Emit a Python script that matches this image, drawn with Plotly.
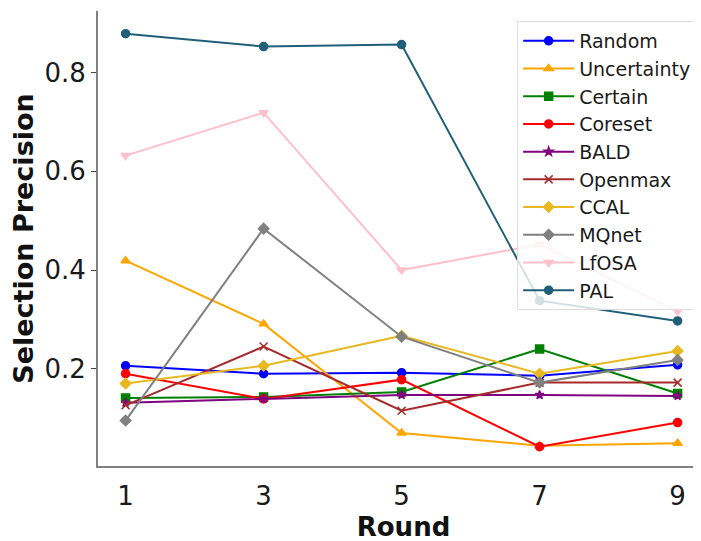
import plotly.graph_objects as go

rounds = [1, 3, 5, 7, 9]
methods = ["Random", "Uncertainty", "Certain", "Coreset", "BALD", "Openmax", "CCAL", "MQnet", "LfOSA", "PAL"]
random_v = [0.206, 0.190, 0.192, 0.186, 0.208]
uncertainty_v = [0.419, 0.291, 0.070, 0.044, 0.049]
certain_v = [0.141, 0.143, 0.153, 0.240, 0.150]
coreset_v = [0.190, 0.139, 0.178, 0.042, 0.091]
bald_v = [0.131, 0.139, 0.147, 0.147, 0.145]
openmax_v = [0.126, 0.245, 0.115, 0.172, 0.172]
ccal_v = [0.170, 0.206, 0.267, 0.190, 0.236]
mqnet_v = [0.095, 0.484, 0.265, 0.172, 0.218]
lfosa_v = [0.632, 0.719, 0.400, 0.452, 0.317]
pal_v = [0.879, 0.853, 0.857, 0.338, 0.297]
y_ticks = [0.2, 0.4, 0.6, 0.8]

series = [random_v, uncertainty_v, certain_v, coreset_v, bald_v, openmax_v, ccal_v, mqnet_v, lfosa_v, pal_v]
colors = ["#0000FF", "#FFA500", "#008000", "#FF0000", "#800080", "#A52A2A", "#E8B820", "#808080", "#FFC0CB", "#1F5F7A"]
symbols = ["circle", "triangle-up", "square", "circle", "star", "x-thin", "diamond", "diamond", "triangle-down", "circle"]
sizes = [8, 8, 8, 8, 6.5, 8, 8, 8, 8, 8]

fig = go.Figure()
for name, vals, c, s, sz in zip(methods, series, colors, symbols, sizes):
    fig.add_trace(go.Scatter(
        x=rounds, y=vals, name=name, mode="lines+markers",
        line=dict(color=c, width=2),
        marker=dict(symbol=s, size=sz, color=c, line=dict(color=c, width=1.5)),
    ))

fig.update_layout(
    width=701, height=541,
    margin=dict(l=90, r=0, t=3, b=83),
    paper_bgcolor="white", plot_bgcolor="white",
    font=dict(family="DejaVu Sans", color="#1a1a1a"),
    showlegend=True,
    legend=dict(
        x=0.686, y=0.978, xanchor="left", yanchor="top",
        bgcolor="rgba(255,255,255,0.8)", bordercolor="#DDDDDD", borderwidth=1,
        font=dict(size=19, family="DejaVu Sans", color="#1a1a1a"),
        tracegroupgap=0, itemwidth=51,
    ),
    xaxis=dict(
        range=[0.6, 9.455], tickmode="array", tickvals=rounds, ticktext=[str(r) for r in rounds],
        showgrid=False, zeroline=False, showline=True, linecolor="#808080", linewidth=2,
        ticks="outside", ticklen=6, tickcolor="rgba(0,0,0,0)", automargin=False,
        tickfont=dict(size=26, family="DejaVu Sans", color="#1a1a1a"),
        title=dict(text="<b>Round</b>", font=dict(size=26, family="DejaVu Sans", color="#111111"), standoff=8),
    ),
    yaxis=dict(
        range=[0.003, 0.925], tickmode="array", tickvals=y_ticks,
        ticktext=[f"{t:.1f}" for t in y_ticks],
        showgrid=False, zeroline=False, showline=True, linecolor="#808080", linewidth=2,
        ticks="outside", ticklen=5, tickcolor="#444444", automargin=False,
        tickfont=dict(size=26, family="DejaVu Sans", color="#1a1a1a"),
        title=dict(text="<b>Selection Precision</b>", font=dict(size=27, family="DejaVu Sans", color="#111111"), standoff=3),
    ),
)

fig.write_html("out.html")
